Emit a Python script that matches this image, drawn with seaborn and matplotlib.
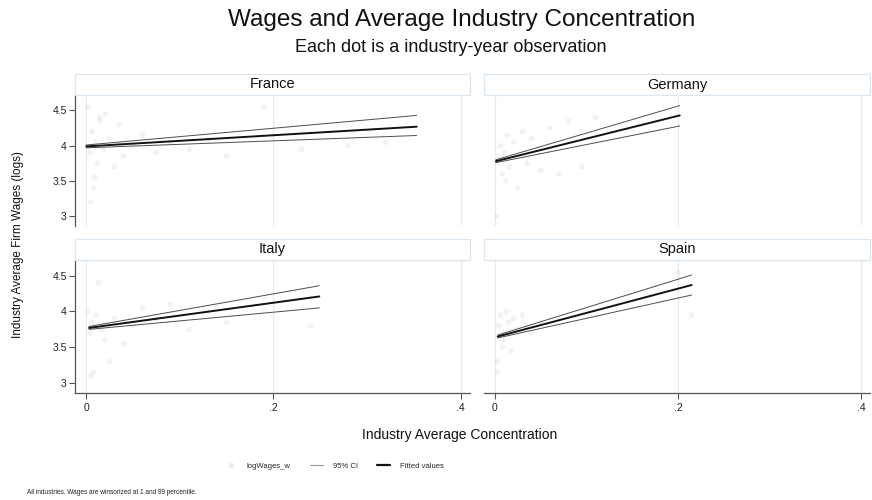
import numpy as np
import pandas as pd
import matplotlib
matplotlib.use("Agg")
import matplotlib.pyplot as plt
from matplotlib.patches import Rectangle
from matplotlib.lines import Line2D
import seaborn as sns

countries = ["France", "Germany", "Italy", "Spain"]

france_x = [0.002, 0.004, 0.006, 0.008, 0.010, 0.012, 0.015, 0.018, 0.020, 0.025, 0.030, 0.035,
            0.040, 0.050, 0.060, 0.075, 0.090, 0.110, 0.130, 0.150, 0.190, 0.230, 0.280, 0.320,
            0.005, 0.009, 0.014]
france_y = [4.55, 3.90, 4.20, 3.40, 4.05, 3.75, 4.35, 3.95, 4.45, 4.10, 3.70, 4.30,
            3.85, 4.00, 4.15, 3.90, 4.05, 3.95, 4.10, 3.85, 4.55, 3.95, 4.00, 4.05,
            3.20, 3.55, 4.40]
germany_x = [0.002, 0.004, 0.006, 0.008, 0.010, 0.013, 0.016, 0.020, 0.025, 0.030, 0.035,
             0.040, 0.050, 0.060, 0.070, 0.080, 0.095, 0.110, 0.003, 0.012]
germany_y = [3.00, 3.85, 4.00, 3.60, 3.90, 4.15, 3.70, 4.05, 3.40, 4.20, 3.75,
             4.10, 3.65, 4.25, 3.60, 4.35, 3.70, 4.40, 3.75, 3.50]
italy_x = [0.002, 0.004, 0.006, 0.008, 0.010, 0.013, 0.016, 0.020, 0.025, 0.030, 0.040,
           0.050, 0.060, 0.075, 0.090, 0.110, 0.130, 0.150, 0.240, 0.005]
italy_y = [4.00, 3.70, 3.85, 3.15, 3.95, 4.40, 3.75, 3.60, 3.30, 3.90, 3.55,
           3.80, 4.05, 3.90, 4.10, 3.75, 4.00, 3.85, 3.80, 3.10]
spain_x = [0.002, 0.004, 0.006, 0.008, 0.010, 0.012, 0.015, 0.018, 0.020, 0.025, 0.030,
           0.035, 0.040, 0.050, 0.200, 0.215, 0.003, 0.009]
spain_y = [3.30, 3.80, 3.95, 3.50, 3.70, 4.00, 3.85, 3.45, 3.90, 3.75, 3.95,
           3.80, 3.70, 3.85, 4.55, 3.95, 3.15, 3.60]

# linear fit and 95% CI, endpoints
fit_x = {"France": [0.000, 0.353], "Germany": [0.001, 0.202],
         "Italy": [0.003, 0.249], "Spain": [0.003, 0.215]}
fit_y = {"France": [3.99, 4.27], "Germany": [3.78, 4.43],
         "Italy": [3.77, 4.21], "Spain": [3.65, 4.37]}
ci_lo = {"France": [3.97, 4.145], "Germany": [3.76, 4.28],
         "Italy": [3.75, 4.05], "Spain": [3.63, 4.23]}
ci_hi = {"France": [4.01, 4.43], "Germany": [3.80, 4.57],
         "Italy": [3.79, 4.36], "Spain": [3.67, 4.51]}

scatter = {"France": (france_x, france_y), "Germany": (germany_x, germany_y),
           "Italy": (italy_x, italy_y), "Spain": (spain_x, spain_y)}

sns.set_theme(style="white")
plt.rcParams["font.family"] = ["Liberation Sans", "DejaVu Sans"]

fig = plt.figure(figsize=(8.72, 5), dpi=100)
W, H = 872, 500

# panel boxes in pixels: left, top, right, bottom
boxes = {"France": (75, 95, 470, 226), "Germany": (484, 95, 870, 226),
         "Italy": (75, 260, 470, 393), "Spain": (484, 260, 870, 393)}
strip_h = 21

grid_col = "#e4ebf1"
axis_col = "#555555"

for c in countries:
    l, t, r, b = boxes[c]
    ax = fig.add_axes([l / W, 1 - b / H, (r - l) / W, (b - t) / H])
    ax.set_xlim(-0.012, 0.41)
    ax.set_ylim(2.86, 4.72)
    for gx in [0, 0.2, 0.4]:
        ax.axvline(gx, color=grid_col, lw=0.8, zorder=0)

    sx, sy = scatter[c]
    sns.scatterplot(x=sx, y=sy, ax=ax, color="#d4d4d4", alpha=0.3, s=16,
                    edgecolor="none", zorder=1)
    df = pd.DataFrame({"x": fit_x[c], "fit": fit_y[c], "lo": ci_lo[c], "hi": ci_hi[c]})
    sns.lineplot(data=df, x="x", y="lo", ax=ax, color="#4d4d4d", lw=0.7, zorder=2)
    sns.lineplot(data=df, x="x", y="hi", ax=ax, color="#4d4d4d", lw=0.7, zorder=2)
    sns.lineplot(data=df, x="x", y="fit", ax=ax, color="#111111", lw=1.4, zorder=3)

    ax.set_xlabel("")
    ax.set_ylabel("")
    for s in ax.spines.values():
        s.set_visible(False)

    left_col = c in ("France", "Italy")
    bottom_row = c in ("Italy", "Spain")

    ax.set_yticks([3, 3.5, 4, 4.5])
    ax.set_xticks([0, 0.2, 0.4])
    if left_col:
        ax.spines["left"].set_visible(True)
        ax.spines["left"].set_color(axis_col)
        ax.spines["left"].set_linewidth(0.9)
        ax.set_yticklabels(["3", "3.5", "4", "4.5"])
    else:
        ax.set_yticklabels([])
    if bottom_row:
        ax.spines["bottom"].set_visible(True)
        ax.spines["bottom"].set_color(axis_col)
        ax.spines["bottom"].set_linewidth(0.9)
        ax.set_xticklabels(["0", ".2", ".4"])
    else:
        ax.set_xticklabels([])
    ax.tick_params(axis="y", left=left_col, length=4, width=0.8, color=axis_col,
                   labelsize=7.5, labelcolor="#222222", pad=2)
    ax.tick_params(axis="x", bottom=bottom_row, length=4, width=0.8, color=axis_col,
                   labelsize=7.5, labelcolor="#222222", pad=3)
    ax.patch.set_alpha(0)

    # strip header
    fig.patches.append(Rectangle((l / W, 1 - t / H), (r - l) / W, strip_h / H,
                                 transform=fig.transFigure, facecolor="white",
                                 edgecolor="#dbe5ee", lw=0.9))
    fig.text((l + r) / 2 / W, 1 - (t - strip_h / 2) / H, c, ha="center", va="center",
             fontsize=10.5, color="#111111")

fig.text(462 / W, 1 - 20 / H, "Wages and Average Industry Concentration", ha="center",
         va="center", fontsize=17.5, color="#111111")
fig.text(451 / W, 1 - 48 / H, "Each dot is a industry-year observation", ha="center",
         va="center", fontsize=13, color="#111111")
fig.text(18 / W, 1 - 244 / H, "Industry Average Firm Wages (logs)", rotation=90,
         ha="center", va="center", fontsize=8.5, color="#111111")
fig.text(460 / W, 1 - 435 / H, "Industry Average Concentration", ha="center",
         va="center", fontsize=10, color="#111111")

handles = [
    Line2D([], [], marker="o", ls="none", color="#ececec", markersize=3),
    Line2D([], [], color="#9a9a9a", lw=0.8),
    Line2D([], [], color="#111111", lw=1.6),
]
fig.legend(handles, ["logWages_w", "95% CI", "Fitted values"], loc="center",
           bbox_to_anchor=(334 / W, 1 - 466 / H), ncol=3, frameon=False, fontsize=5.5,
           handlelength=1.7, columnspacing=2.6, handletextpad=1.2)

fig.text(27 / W, 1 - 492 / H, "All industries. Wages are winsorized at 1 and 99 percentile.",
         ha="left", va="center", fontsize=4.7, color="#222222")

fig.savefig("out.png", dpi=100)
